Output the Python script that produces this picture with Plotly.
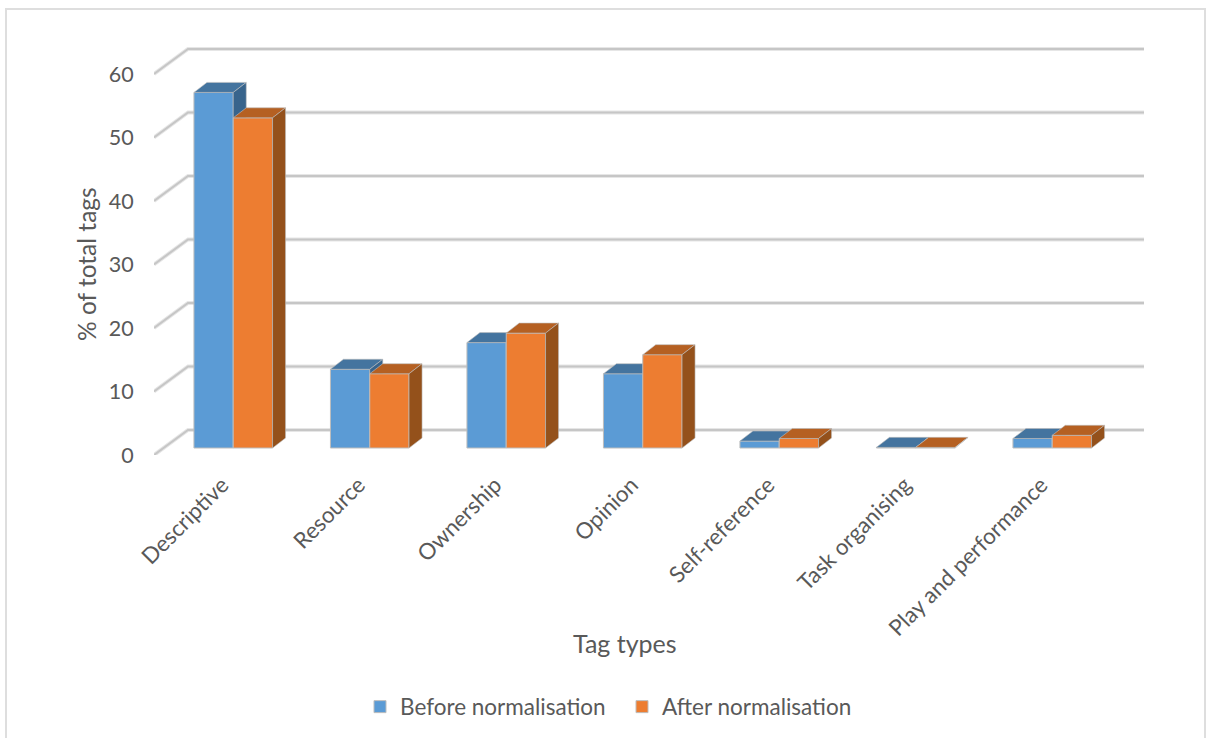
import plotly.graph_objects as go

# Chart data
categories = ["Descriptive", "Resource", "Ownership", "Opinion",
              "Self-reference", "Task organising", "Play and performance"]
before_values = [56.0, 12.4, 16.6, 11.7, 1.1, 0.1, 1.5]
after_values = [52.0, 11.7, 18.1, 14.7, 1.5, 0.1, 2.0]
y_ticks = [0, 10, 20, 30, 40, 50, 60]

W, H = 1213, 738
FONT = "Lato"
TEXT = "#595959"

# Plot frame in pixels, and the scale of each axis
LEFT, RIGHT, TOP, FLOOR = 154, 1150, 40, 455
PX_PER_CAT, PX_PER_UNIT = 136.5, 6.35
X_RANGE = [-0.5, -0.5 + (RIGHT - LEFT) / PX_PER_CAT]
Y_RANGE = [0, (FLOOR - TOP) / PX_PER_UNIT]


def dx(px):
    return px / PX_PER_CAT


def dy(px):
    return px / PX_PER_UNIT


# Oblique projection offsets for the 3-D look
WALL_DX, WALL_DY = dx(34), dy(25)
BAR_DX, BAR_DY = dx(11), dy(7)
SIDE_DX, SIDE_DY = dx(13), dy(10)
BAR_W = dx(39.3)
GRID_END = dx(1144 - LEFT) - 0.5

fig = go.Figure()

# Wall gridlines: a soft wide stroke with a darker core
grid_x, grid_y = [], []
for t in y_ticks:
    grid_x += [-0.5, -0.5 + WALL_DX, GRID_END, None]
    grid_y += [t, t + WALL_DY, t + WALL_DY, None]
for color, width in (("#e6e6e6", 4), ("#c6c6c6", 2)):
    fig.add_trace(go.Scatter(
        x=grid_x, y=grid_y, mode="lines", showlegend=False, hoverinfo="skip",
        cliponaxis=False, line=dict(color=color, width=width)))


def add_series(name, values, offset, front, top_col, side_col, axes):
    """Front faces as bars, then the top and side faces as filled polygons."""
    xa, ya = axes
    fig.add_trace(go.Bar(
        x=list(range(len(values))), y=values, base=BAR_DY, name=name,
        width=BAR_W, offset=BAR_DX + offset, xaxis=xa, yaxis=ya,
        marker=dict(color=front, line=dict(color="#bdbdbd", width=1))))
    top_x, top_y, side_x, side_y = [], [], [], []
    for i, v in enumerate(values):
        x0 = i + BAR_DX + offset
        x1 = x0 + BAR_W
        y1 = BAR_DY + v
        top_x += [x0, x0 + SIDE_DX, x1 + SIDE_DX, x1, x0, None]
        top_y += [y1, y1 + SIDE_DY, y1 + SIDE_DY, y1, y1, None]
        side_x += [x1, x1 + SIDE_DX, x1 + SIDE_DX, x1, x1, None]
        side_y += [BAR_DY, BAR_DY + SIDE_DY, y1 + SIDE_DY, y1, BAR_DY, None]
    for px, py, col in ((top_x, top_y, top_col), (side_x, side_y, side_col)):
        fig.add_trace(go.Scatter(
            x=px, y=py, mode="lines", fill="toself", fillcolor=col,
            line=dict(color="#bdbdbd", width=0.6), showlegend=False,
            hoverinfo="skip", xaxis=xa, yaxis=ya, cliponaxis=False))


add_series("Before normalisation", before_values, -BAR_W, "#5b9bd5",
           "#44749f", "#38648c", ("x2", "y2"))
add_series("After normalisation", after_values, 0, "#ed7d31",
           "#b56022", "#94511b", ("x3", "y3"))

domain_x = [LEFT / W, RIGHT / W]
domain_y = [1 - FLOOR / H, 1 - TOP / H]
hidden = dict(range=X_RANGE, domain=domain_x, visible=False, fixedrange=True,
              automargin=False)
hidden_y = dict(range=Y_RANGE, domain=domain_y, visible=False, fixedrange=True,
                automargin=False)

fig.update_layout(
    width=W, height=H, margin=dict(l=0, r=0, t=0, b=0),
    paper_bgcolor="white", plot_bgcolor="rgba(0,0,0,0)",
    barmode="overlay", font=dict(family=FONT, color=TEXT, size=22),
    xaxis=dict(range=X_RANGE, domain=domain_x, tickmode="array",
               tickvals=list(range(len(categories))), ticktext=categories,
               tickangle=-45, showgrid=False, zeroline=False, showline=False,
               ticks="outside", ticklen=7, tickcolor="rgba(0,0,0,0)",
               automargin=False,
               tickfont=dict(family=FONT, size=22.4, color=TEXT)),
    yaxis=dict(range=Y_RANGE, domain=domain_y, tickmode="array",
               tickvals=y_ticks, showgrid=False, zeroline=False, showline=False,
               ticks="outside", ticklen=15, tickcolor="rgba(0,0,0,0)",
               automargin=False,
               tickfont=dict(family=FONT, size=21.5, color=TEXT)),
    xaxis2=dict(hidden, overlaying="x"), yaxis2=dict(hidden_y, overlaying="y"),
    xaxis3=dict(hidden, overlaying="x"), yaxis3=dict(hidden_y, overlaying="y"),
    legend=dict(orientation="h", x=622 / W, xanchor="center", y=1 - 707 / H,
                yanchor="middle", entrywidth=217, entrywidthmode="pixels",
                font=dict(family=FONT, size=22.5, color=TEXT),
                bgcolor="rgba(0,0,0,0)"),
    annotations=[
        dict(text="% of total tags", xref="paper", yref="paper",
             x=87 / W, y=1 - 264 / H, showarrow=False, textangle=-90,
             xanchor="center", yanchor="middle",
             font=dict(family=FONT, size=24.5, color=TEXT)),
        dict(text="Tag types", xref="paper", yref="paper",
             x=625 / W, y=1 - 643 / H, showarrow=False,
             xanchor="center", yanchor="middle",
             font=dict(family=FONT, size=25, color=TEXT)),
    ],
    # Chart frame: open at the bottom edge
    shapes=[dict(type="path", xref="paper", yref="paper",
                 path=f"M {6/W},0 L {6/W},{1-9/H} L {1205/W},{1-9/H} L {1205/W},0",
                 line=dict(color="#dedede", width=2))],
)

fig.write_html("out.html")
